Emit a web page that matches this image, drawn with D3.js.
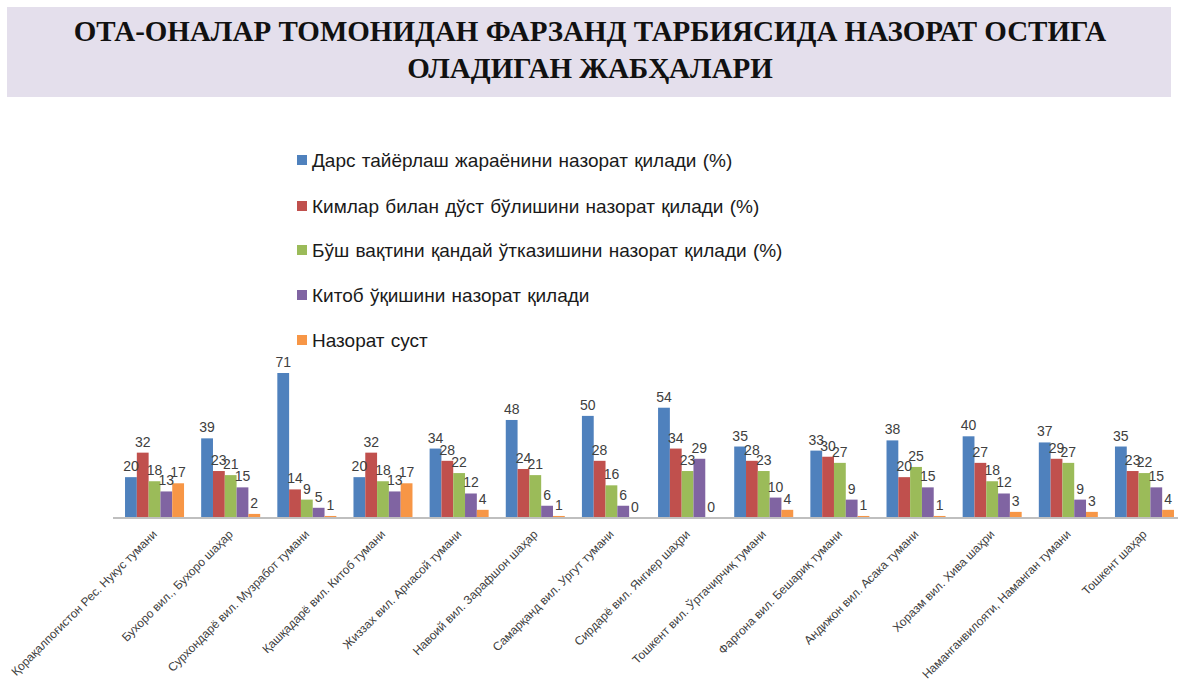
<!DOCTYPE html>
<html>
<head>
<meta charset="utf-8">
<script src="https://cdn.jsdelivr.net/npm/d3@7"></script>
<style>
  body { margin: 0; background: #fff; }
  svg { display: block; }
</style>
</head>
<body>
<div id="chart"></div>
<script>
// Dane wykresu
const titleLines = [
  "ОТА-ОНАЛАР ТОМОНИДАН ФАРЗАНД ТАРБИЯСИДА НАЗОРАТ ОСТИГА",
  "ОЛАДИГАН ЖАБҲАЛАРИ"
];

const regions = [
  "Қорақалпоғистон Рес. Нукус тумани",
  "Бухоро вил., Бухоро шаҳар",
  "Сурхондарё вил. Музработ тумани",
  "Қашқадарё вил. Китоб тумани",
  "Жиззах вил. Арнасой тумани",
  "Навоий вил. Зарафшон шаҳар",
  "Самарқанд вил. Ургут тумани",
  "Сирдарё вил. Янгиер шаҳри",
  "Тошкент вил. Ўртачирчиқ тумани",
  "Фарғона вил. Бешариқ тумани",
  "Андижон вил. Асака тумани",
  "Хоразм вил. Хива шаҳри",
  "Наманганвилояти, Наманган тумани",
  "Тошкент шаҳар"
];

const seriesNames = [
  "Дарс тайёрлаш жараёнини назорат қилади (%)",
  "Кимлар билан дўст бўлишини назорат қилади (%)",
  "Бўш вақтини қандай ўтказишини назорат қилади (%)",
  "Китоб ўқишини назорат қилади",
  "Назорат суст"
];

const lessons  = [20, 39, 71, 20, 34, 48, 50, 54, 35, 33, 38, 40, 37, 35];
const friends  = [32, 23, 14, 32, 28, 24, 28, 34, 28, 30, 20, 27, 29, 23];
const freeTime = [18, 21,  9, 18, 22, 21, 16, 23, 23, 27, 25, 18, 27, 22];
const reading  = [13, 15,  5, 13, 12,  6,  6, 29, 10,  9, 15, 12,  9, 15];
const weak     = [17,  2,  1, 17,  4,  1,  0,  0,  4,  1,  1,  3,  3,  4];

const seriesValues = [lessons, friends, freeTime, reading, weak];
const colors = ["#4F81BD", "#C0504D", "#9BBB59", "#8064A2", "#F79646"];

// Wymiary
const width = 1178;
const height = 689;
const baseline = 518;

const svg = d3.select("#chart")
  .append("svg")
  .attr("width", width)
  .attr("height", height);

// Pasek tytułu
svg.append("rect")
  .attr("x", 7).attr("y", 7)
  .attr("width", 1164).attr("height", 90)
  .attr("fill", "#E4DFEC");

svg.selectAll(".title")
  .data(titleLines)
  .enter()
  .append("text")
  .attr("class", "title")
  .attr("x", 590)
  .attr("y", (d, i) => 41 + i * 37)
  .attr("text-anchor", "middle")
  .style("font-family", "'Liberation Serif', 'Times New Roman', Tinos, 'DejaVu Serif', 'Noto Serif', serif")
  .style("font-weight", "bold")
  .style("font-size", "29px")
  .attr("fill", "#111")
  .text(d => d);

// Legenda
const legend = svg.append("g");
const legendRows = legend.selectAll("g")
  .data(seriesNames)
  .enter()
  .append("g")
  .attr("transform", (d, i) => "translate(297," + [160, 206, 250, 295, 340][i] + ")");

legendRows.append("rect")
  .attr("x", 0).attr("y", -5)
  .attr("width", 10).attr("height", 10)
  .attr("fill", (d, i) => colors[i]);

legendRows.append("text")
  .attr("x", 15)
  .attr("y", 0)
  .attr("dy", "0.35em")
  .style("font-family", "'Liberation Sans', Arial, sans-serif")
  .style("font-size", "19px")
  .attr("word-spacing", 1)
  .attr("fill", "#1a1a1a")
  .text(d => d);

// Skale
const x = d3.scaleBand()
  .domain(regions)
  .range([113.6, 1185.4])
  .paddingInner(0.225)
  .paddingOuter(0.15);

const xs = d3.scaleBand()
  .domain(d3.range(seriesNames.length))
  .range([0, x.bandwidth()]);

const y = d3.scaleLinear()
  .domain([0, 71])
  .range([baseline, 373]);

// Słupki
const groups = svg.append("g")
  .selectAll("g")
  .data(regions)
  .enter()
  .append("g")
  .attr("transform", d => "translate(" + x(d) + ",0)");

groups.each(function (region, gi) {
  const g = d3.select(this);
  const vals = seriesValues.map(s => s[gi]);
  g.selectAll("rect")
    .data(vals)
    .enter()
    .append("rect")
    .attr("x", (d, i) => xs(i))
    .attr("y", d => y(Math.max(d, 0.6)))
    .attr("width", xs.bandwidth())
    .attr("height", d => baseline - y(Math.max(d, 0.6)))
    .attr("fill", (d, i) => colors[i])
    .attr("opacity", d => d === 0 ? 0 : 1);

  g.selectAll("text")
    .data(vals)
    .enter()
    .append("text")
    .attr("x", (d, i) => xs(i) + xs.bandwidth() / 2)
    .attr("y", d => y(d) - 6)
    .attr("text-anchor", "middle")
    .attr("font-family", "'Liberation Sans', Arial, sans-serif")
    .attr("font-size", 14)
    .attr("fill", "#404040")
    .text(d => d);
});

// Oś X
const xAxis = svg.append("g")
  .attr("transform", "translate(0," + baseline + ")")
  .call(d3.axisBottom(x).tickSize(0).tickSizeOuter(0));

xAxis.select(".domain")
  .attr("d", "M113,0H1178")
  .attr("stroke", "#BFBFBF")
  .attr("stroke-width", 2);

xAxis.selectAll(".tick text")
  .attr("font-family", "'Liberation Sans', Arial, sans-serif")
  .attr("font-size", 12)
  .attr("fill", "#404040")
  .attr("text-anchor", "end")
  .attr("dy", 0)
  .attr("transform", "translate(1,15) rotate(-45)");
</script>
</body>
</html>
